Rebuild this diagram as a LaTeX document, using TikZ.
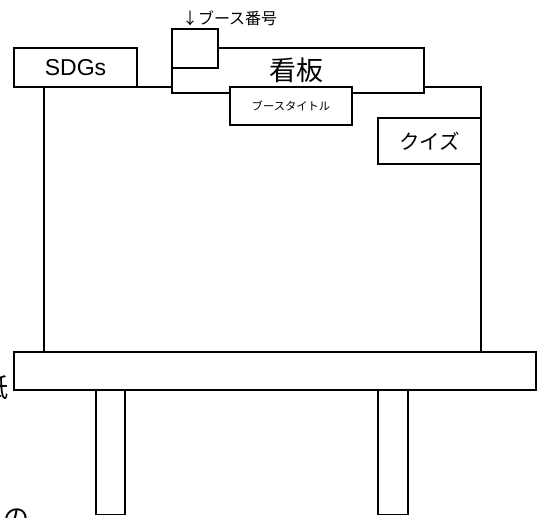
\documentclass[tikz,border=0pt]{standalone}
\usepackage{fontspec}
\setmainfont{Noto Sans CJK JP}
\newfontfamily\latinfont{Liberation Sans}
\begin{document}
\begin{tikzpicture}[x=1pt,y=-1pt,
  part/.style={draw=black,line width=1.3pt,fill=white,rectangle,inner sep=0pt,outer sep=0pt},
  lbl/.style={inner sep=0pt,outer sep=0pt,text=black}]
\useasboundingbox (0,0) rectangle (541,517);
\clip (0,0) rectangle (541,517);
% board frame
\node[part,fill=none,minimum width=437pt,minimum height=265pt] (board) at (262.5,219.5) {};
% header boards
\node[part,minimum width=252pt,minimum height=45pt] (kanban) at (298,70.5) {};
\node[lbl,font=\fontsize{27}{27}\selectfont] (kanbantext) at (296,70) {看板};
\node[part,minimum width=46pt,minimum height=39pt] (bangou) at (195,48.5) {};
\node[lbl,anchor=west,font=\fontsize{16}{16}\selectfont] (bangoulbl) at (182,18) {↓ブース番号};
\node[part,minimum width=122pt,minimum height=38pt,font=\fontsize{11.3}{12}\selectfont] (title) at (291,106) {ブースタイトル};
\node[part,minimum width=123pt,minimum height=39pt,font=\latinfont\fontsize{23}{23}\selectfont] (sdgs) at (75.5,67.5) {SDGs};
\node[part,minimum width=103pt,minimum height=46pt,font=\fontsize{20.5}{21}\selectfont] (quiz) at (429.5,141) {クイズ};
% table
\node[part,minimum width=522pt,minimum height=38pt] (table) at (275,371) {};
\node[part,minimum width=29pt,minimum height=124pt] (legL) at (110.5,452.5) {};
\node[part,minimum width=30pt,minimum height=124pt] (legR) at (393,452.5) {};
% clipped texts at the left edge
\node[lbl,anchor=east,font=\fontsize{26}{26}\selectfont] (kami) at (9,388) {紙};
\node[lbl,font=\fontsize{26}{26}\selectfont] (no) at (17,519) {の};
\end{tikzpicture}
\end{document}
